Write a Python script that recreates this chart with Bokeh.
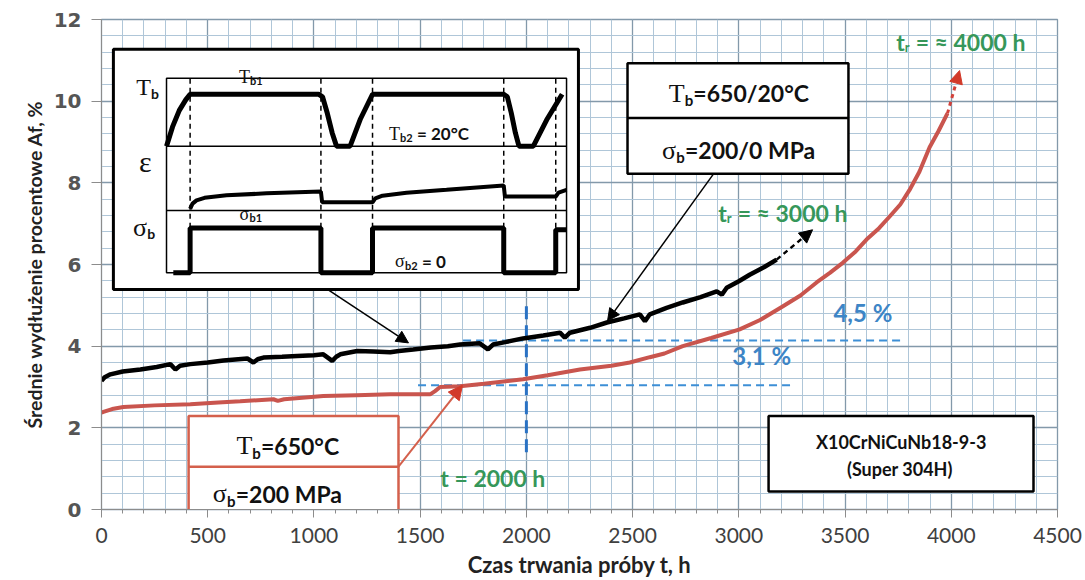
from bokeh.plotting import figure
from bokeh.models import FixedTicker, Arrow, NormalHead
from bokeh.embed import file_html
from bokeh.resources import INLINE
from bokeh.core.properties import value

# ---------------- data ----------------
# cyclic test (Tb = 650/20 C, sigma = 200/0 MPa)
black_t = [0, 15, 42, 100, 183, 260, 324, 348, 370, 418, 500, 574, 686, 715, 735, 762, 850, 921,
           1000, 1044, 1086, 1105, 1124, 1204, 1280, 1359, 1400, 1467, 1550, 1630, 1688, 1780,
           1819, 1843, 1900, 1984, 2080, 2158, 2181, 2205, 2300, 2379, 2460, 2534, 2558, 2581,
           2660, 2736, 2820, 2896, 2920, 2943, 3000, 3051, 3120, 3178]
black_af = [3.15, 3.24, 3.31, 3.38, 3.43, 3.49, 3.56, 3.43, 3.52, 3.56, 3.60, 3.65, 3.70, 3.60,
            3.68, 3.72, 3.74, 3.76, 3.78, 3.80, 3.64, 3.74, 3.80, 3.88, 3.87, 3.85, 3.88, 3.92,
            3.97, 4.00, 4.04, 4.07, 3.92, 4.04, 4.10, 4.19, 4.26, 4.33, 4.21, 4.33, 4.45, 4.58,
            4.68, 4.78, 4.61, 4.78, 4.94, 5.07, 5.20, 5.34, 5.26, 5.43, 5.59, 5.75, 5.94, 6.12]
black_ext_t = [3178, 3347]
black_ext_af = [6.12, 6.85]

# isothermal test (Tb = 650 C, sigma = 200 MPa)
red_t = [0, 9, 50, 103, 250, 418, 550, 653, 809, 830, 860, 1044, 1200, 1359, 1547, 1570, 1594,
         1688, 1800, 1984, 2100, 2252, 2400, 2487, 2581, 2650, 2736, 2870, 3004, 3100, 3206,
         3290, 3366, 3430, 3489, 3550, 3601, 3660, 3709, 3760, 3803, 3850, 3898, 3940, 3982]
red_af = [2.37, 2.39, 2.46, 2.51, 2.55, 2.58, 2.62, 2.65, 2.70, 2.66, 2.70, 2.78, 2.80, 2.82,
          2.82, 2.90, 3.00, 3.02, 3.08, 3.19, 3.29, 3.43, 3.52, 3.60, 3.73, 3.82, 4.00, 4.20,
          4.41, 4.64, 4.97, 5.24, 5.56, 5.80, 6.04, 6.32, 6.61, 6.89, 7.17, 7.47, 7.82, 8.27,
          8.87, 9.27, 9.70]
red_ext_t = [3982, 4039]
red_ext_af = [9.70, 10.75]

ref_time = 2000
ref_span = [1.4, 4.98]
level_cyclic = 4.14
level_cyclic_span = [1702, 3780]
level_iso = 3.04
level_iso_span = [1490, 3263]

x_ticks = list(range(0, 4501, 500))
x_minor = list(range(0, 4501, 100))
y_ticks = list(range(0, 13, 2))
y_minor = [round(i * 0.4, 2) for i in range(31)]

# schematic of the loading cycle (normalised 0..1 inside the inset frame)
sch_tb_u = [0, .015, .032, .048, .059, .380, .390, .402, .414, .425, .459, .485, .515,
            .843, .852, .862, .872, .881, .917, .952, .989]
sch_tb_v = [.651, .750, .835, .889, .918, .918, .905, .820, .720, .651, .651, .792, .918,
            .918, .905, .820, .720, .651, .651, .792, .918]
sch_eps_u = [.059, .065, .075, .095, .15, .25, .386, .389, .515, .522, .54, .60, .70, .843,
             .846, .973, .980, 1.0]
sch_eps_v = [.328, .355, .372, .385, .398, .408, .417, .362, .362, .382, .396, .411, .426,
             .448, .392, .392, .412, .426]
sch_sig_u = [.017, .059, .059, .386, .386, .515, .515, .843, .843, .973, .973, 1.0]
sch_sig_v = [0, 0, .23, .23, 0, 0, .23, .23, 0, 0, .221, .221]
sch_cycle_u = [.059, .386, .515, .843, .973]
sch_sep_v = [.651, .320]

# ---------------- figure ----------------
p = figure(width=1085, height=580, x_range=(0, 4500), y_range=(0, 12),
           output_backend="svg", toolbar_location=None,
           min_border_left=101, min_border_right=28, min_border_top=19, min_border_bottom=69)
p.background_fill_color = "white"
p.border_fill_color = "white"
p.outline_line_color = "#8399aa"
p.outline_line_width = 1.3

xt = FixedTicker(ticks=x_ticks, minor_ticks=x_minor)
yt = FixedTicker(ticks=y_ticks, minor_ticks=y_minor)
p.xaxis.ticker = xt
p.xgrid.ticker = xt
p.yaxis.ticker = FixedTicker(ticks=y_ticks, minor_ticks=[])
p.ygrid.ticker = yt
for g in (p.xgrid, p.ygrid):
    g.grid_line_color = "#8399aa"
    g.grid_line_width = 1.3
    g.minor_grid_line_color = "#afc6d8"
    g.minor_grid_line_width = 1

for ax in (p.xaxis, p.yaxis):
    ax.axis_line_color = "#8c8c8c"
    ax.major_tick_line_color = "#8c8c8c"
    ax.minor_tick_line_color = "#8c8c8c"
    ax.major_tick_in = 0
    ax.minor_tick_in = 0
    ax.axis_label_text_font = "Lato"
    ax.axis_label_text_font_style = "bold"
    ax.axis_label_text_color = "#222222"
p.xaxis.major_tick_out = 8
p.xaxis.minor_tick_out = 4
p.yaxis.major_tick_out = 10
p.yaxis.minor_tick_out = 0
p.xaxis.major_label_text_font = "Lato"
p.xaxis.major_label_text_font_size = "21px"
p.xaxis.major_label_text_color = "#404040"
p.xaxis.major_label_standoff = 10
p.yaxis.major_label_text_font = "DejaVu Sans"
p.yaxis.major_label_text_font_style = "bold"
p.yaxis.major_label_text_font_size = "20px"
p.yaxis.major_label_text_color = "#555555"
p.yaxis.major_label_standoff = 10
p.xaxis.axis_label = "Czas trwania próby t, h"
p.xaxis.axis_label_text_font_size = "22px"
p.xaxis.axis_label_standoff = 5
p.yaxis.axis_label = "Średnie wydłużenie procentowe Af, %"
p.yaxis.axis_label_text_font_size = "19.5px"
p.yaxis.axis_label_standoff = 5

SANS = "Lato"
SERIF = "Liberation Serif"
W_SANS = {' ': .25, '/': .37, ',': .26, '.': .26, '°': .40, '=': .58, '(': .33, ')': .33,
          '-': .36, '%': .84, 't': .37, 'h': .60, 'r': .40, 'M': .90, 'P': .62, 'a': .53,
          'b': .58, 'C': .66, '≈': .58}
W_SERIF = {'T': .61, 'σ': .55, 'ε': .44}


def tw(s, size, font):
    table = W_SERIF if font == SERIF else W_SANS
    return sum(table.get(c, .58) for c in s) * size


def rich(x, y, parts, color="#111111", align="center"):
    total = sum(tw(t, s, f) for t, s, f, st, dy in parts)
    off = -total / 2 if align == "center" else 0
    for t, s, f, st, dy in parts:
        lead = len(t) - len(t.lstrip(" "))
        shown = t.strip(" ")
        p.text(x=[x], y=[y], text=[shown], x_offset=off + tw(" " * lead, s, f), y_offset=dy,
               text_align="left", text_baseline="middle", text_font=value(f),
               text_font_size=f"{s}px", text_font_style=st, text_color=color)
        off += tw(t, s, f)


# ---------------- reference lines ----------------
p.line([level_cyclic_span[0], level_cyclic_span[1]], [level_cyclic, level_cyclic],
       line_color="#3d8fd6", line_width=2, line_dash="8 5")
p.line([level_iso_span[0], level_iso_span[1]], [level_iso, level_iso],
       line_color="#3d8fd6", line_width=2, line_dash="8 5")
p.line([ref_time, ref_time], ref_span, line_color="#2a72c4", line_width=3, line_dash="13 6")

# ---------------- curves ----------------
p.line(red_t, red_af, line_color="#c9554e", line_width=4)
p.line(black_t, black_af, line_color="black", line_width=4.5)
p.add_layout(Arrow(end=NormalHead(size=13, fill_color="#d23a2a", line_color="#d23a2a"),
                   x_start=red_ext_t[0], y_start=red_ext_af[0], x_end=red_ext_t[1], y_end=red_ext_af[1],
                   line_color="#d2413a", line_width=3, line_dash="4 4"))
p.add_layout(Arrow(end=NormalHead(size=13, fill_color="black", line_color="black"),
                   x_start=black_ext_t[0], y_start=black_ext_af[0], x_end=black_ext_t[1], y_end=black_ext_af[1],
                   line_color="black", line_width=2.5, line_dash="5 4"))

# ---------------- inset schematic ----------------
IX0, IX1, IY0, IY1 = 306, 2189, 5.80, 10.56


def X(u):
    return [IX0 + v * (IX1 - IX0) for v in u]


def Y(v):
    return [IY0 + w * (IY1 - IY0) for w in v]


p.quad(left=56, right=2245, bottom=5.39, top=11.27, fill_color="white",
       line_color="black", line_width=3)
p.quad(left=IX0, right=IX1, bottom=IY0, top=IY1, fill_color=None,
       line_color="black", line_width=1.5)
for v in sch_sep_v:
    p.line(X([0, 1]), Y([v, v]), line_color="black", line_width=1.5)
for u in sch_cycle_u:
    p.line(X([u, u]), Y([0, 1]), line_color="black", line_width=1.5, line_dash="5 4")
p.line(X(sch_tb_u), Y(sch_tb_v), line_color="black", line_width=5)
p.line(X(sch_eps_u), Y(sch_eps_v), line_color="black", line_width=4)
p.line(X(sch_sig_u), Y(sch_sig_v), line_color="black", line_width=5)

rich(X([-.047])[0], Y([.954])[0], [("T", 24, SERIF, "normal", 0), ("b", 14, SANS, "bold", 6)])
rich(X([.211])[0], Y([1.008])[0], [("T", 18, SERIF, "normal", 0), ("b1", 11, SANS, "bold", 4)])
rich(X([.656])[0], Y([.716])[0], [("T", 18, SERIF, "normal", 0), ("b2", 11, SANS, "bold", 4),
                                  (" = 20°C", 17, SANS, "bold", 0)])
rich(X([-.052])[0], Y([.571])[0], [("ε", 30, SERIF, "normal", 0)])
rich(X([-.056])[0], Y([.23])[0], [("σ", 26, SERIF, "normal", 0), ("b", 14, SANS, "bold", 6)])
rich(X([.211])[0], Y([.303])[0], [("σ", 18, SERIF, "normal", 0), ("b1", 11, SANS, "bold", 4)])
rich(X([.635])[0], Y([.06])[0], [("σ", 18, SERIF, "normal", 0), ("b2", 11, SANS, "bold", 4),
                                 (" = 0", 17, SANS, "bold", 0)])

# arrow from inset to cyclic curve
p.add_layout(Arrow(end=NormalHead(size=12, fill_color="black", line_color="black"),
                   x_start=1064, y_start=5.39, x_end=1445, y_end=4.08,
                   line_color="black", line_width=1.5))

# ---------------- legend boxes ----------------
p.quad(left=2476, right=3516, bottom=8.22, top=10.93, fill_color="white",
       line_color="black", line_width=2.5)
p.line([2476, 3516], [9.59, 9.59], line_color="black", line_width=2.5)
rich(2994, 10.20, [("T", 26, SERIF, "normal", 0), ("b", 15, SANS, "bold", 7),
                   ("=650/20°C", 23, SANS, "bold", 0)])
rich(2994, 8.80, [("σ", 26, SERIF, "normal", 0), ("b", 15, SANS, "bold", 7),
                  ("=200/0 MPa", 23, SANS, "bold", 0)])
p.add_layout(Arrow(end=NormalHead(size=12, fill_color="black", line_color="black"),
                   x_start=2881, y_start=8.22, x_end=2382, y_end=4.62,
                   line_color="black", line_width=1.5))

p.quad(left=410, right=1398, bottom=-0.15, top=2.29, fill_color="white",
       line_color="#d4604c", line_width=2.5)
p.line([410, 1398], [1.05, 1.05], line_color="#d4604c", line_width=2.5)
rich(876, 1.56, [("T", 26, SERIF, "normal", 0), ("b", 15, SANS, "bold", 7),
                 ("=650°C", 23, SANS, "bold", 0)])
rich(828, 0.39, [("σ", 26, SERIF, "normal", 0), ("b", 15, SANS, "bold", 7),
                 ("=200 MPa", 23, SANS, "bold", 0)])
p.add_layout(Arrow(end=NormalHead(size=14, fill_color="#d23a2a", line_color="#d23a2a"),
                   x_start=1398, y_start=1.05, x_end=1699, y_end=3.04,
                   line_color="#d4604c", line_width=2))

p.quad(left=3140, right=4387, bottom=0.44, top=2.29, fill_color="white",
       line_color="black", line_width=2.5)
rich(3761, 1.66, [("X10CrNiCuNb18-9-3", 18, SANS, "bold", 0)])
rich(3761, 1.00, [("(Super 304H)", 18, SANS, "bold", 0)])

# ---------------- annotations ----------------
BLUE = "#3d85c6"
GREEN = "#36975a"
rich(3587, 4.83, [("4,5 %", 24, SANS, "bold", 0)], color=BLUE)
rich(3111, 3.76, [("3,1 %", 24, SANS, "bold", 0)], color=BLUE)
rich(1845, 0.76, [("t = 2000 h", 23, SANS, "bold", 0)], color=GREEN)
rich(3210, 7.27, [("t", 23, SANS, "bold", 0), ("r", 13, SANS, "bold", 5),
                  (" = ≈ 3000 h", 23, SANS, "bold", 0)], color=GREEN)
rich(4048, 11.44, [("t", 23, SANS, "bold", 0), ("r", 13, SANS, "bold", 5),
                   (" = ≈ 4000 h", 23, SANS, "bold", 0)], color=GREEN)

open("out.html", "w").write(file_html(p, INLINE))
